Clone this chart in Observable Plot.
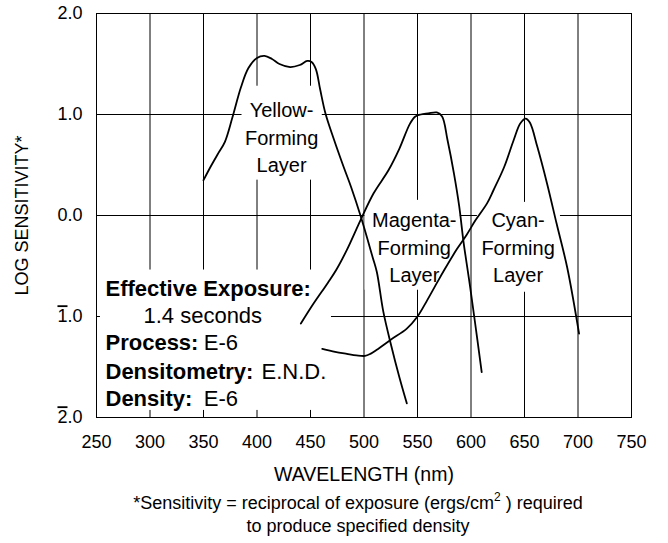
<!DOCTYPE html>
<html><head><meta charset="utf-8">
<script src="https://cdn.jsdelivr.net/npm/d3@7"></script>
<script src="https://cdn.jsdelivr.net/npm/@observablehq/plot@0.6"></script>
<style>
body{margin:0;background:#fff;font-family:"Liberation Sans",Arial,sans-serif;color:#000;}
#caption{width:668px;box-sizing:border-box;padding-left:48px;padding-top:2px;text-align:center;font-size:18px;line-height:22.5px;}
#caption sup{font-size:12px;line-height:0;vertical-align:baseline;position:relative;top:-8px;}
</style></head><body>
<div id="chart"></div>
<div id="caption">*Sensitivity = reciprocal of exposure (ergs/cm<sup>2</sup> ) required<br>to produce specified density</div>
<script>
// Yellow-forming layer
const yellowWl  = [350, 357, 364, 370, 377, 385, 392, 400, 407, 414, 421, 431, 440, 447, 451, 455, 459, 464, 472, 481, 488, 497, 508, 512, 518, 525, 533, 540];
const yellowLog = [0.35, 0.49, 0.62, 0.73, 0.97, 1.27, 1.46, 1.56, 1.58, 1.55, 1.50, 1.47, 1.49, 1.53, 1.52, 1.45, 1.25, 1.01, 0.75, 0.48, 0.28, -0.01, -0.41, -0.56, -0.95, -1.27, -1.60, -1.86];
// Magenta-forming layer
const magentaWl  = [441, 453, 466, 474, 484, 497, 509, 523, 533, 543, 548, 553, 560, 568, 573, 578, 584, 589, 593, 598, 603, 610];
const magentaLog = [-1.07, -0.87, -0.67, -0.54, -0.34, -0.04, 0.22, 0.45, 0.66, 0.91, 0.98, 1.00, 1.01, 1.02, 0.98, 0.75, 0.42, 0.09, -0.26, -0.62, -1.00, -1.55];
// Cyan-forming layer
const cyanWl  = [461, 473, 484, 493, 501, 506, 512, 525, 540, 550, 559, 568, 575, 587, 596, 604, 615, 621, 631, 640, 646, 651, 655, 662, 671, 680, 690, 701];
const cyanLog = [-1.32, -1.35, -1.37, -1.385, -1.39, -1.37, -1.33, -1.23, -1.12, -1.00, -0.84, -0.67, -0.54, -0.33, -0.19, -0.05, 0.12, 0.25, 0.48, 0.75, 0.91, 0.96, 0.92, 0.68, 0.32, -0.08, -0.52, -1.17];

const xTicks = [250, 300, 350, 400, 450, 500, 550, 600, 650, 700, 750];
const yTicks = [-2, -1, 0, 1, 2];
const xTitle = "WAVELENGTH (nm)";
const yTitle = "LOG SENSITIVITY*";

// Annotation text and their white backing boxes
const layerLabels = [
  {text: "Yellow-\nForming\nLayer", wl: 423, log: 0.79},
  {text: "Magenta-\nForming\nLayer", wl: 547, log: -0.30},
  {text: "Cyan-\nForming\nLayer", wl: 644, log: -0.30}
];
const boxes = [
  {x1: 386, x2: 461, y1: 0.35, y2: 1.28},
  {x1: 253.7, x2: 469.6, y1: -1.93, y2: -0.54},
  {x1: 501, x2: 590, y1: -0.74, y2: 0.15},
  {x1: 606, x2: 683.6, y1: -0.76, y2: 0.13}
];
const infoLabels = [
  {text: "Effective Exposure:", wl: 258.4, log: -0.796},
  {text: "Process:", wl: 258.4, log: -1.334},
  {text: "Densitometry:", wl: 258.4, log: -1.614},
  {text: "Density:", wl: 258.4, log: -1.885}
];
const infoValues = [
  {text: "1.4 seconds", wl: 293.9, log: -1.069},
  {text: "E-6", wl: 350.3, log: -1.334},
  {text: "E.N.D.", wl: 404.2, log: -1.614},
  {text: "E-6", wl: 350.3, log: -1.885}
];

const rows = [];
yellowWl.forEach((w, i) => rows.push({layer: "Yellow", wl: w, log: yellowLog[i]}));
magentaWl.forEach((w, i) => rows.push({layer: "Magenta", wl: w, log: magentaLog[i]}));
cyanWl.forEach((w, i) => rows.push({layer: "Cyan", wl: w, log: cyanLog[i]}));

const svg = Plot.plot({
  width: 668,
  height: 490,
  marginLeft: 96,
  marginRight: 37,
  marginTop: 13,
  marginBottom: 73,
  style: {fontFamily: "'Liberation Sans', Arial, sans-serif", fontSize: "18px", color: "#000", background: "#fff"},
  x: {domain: [250, 750], label: null},
  y: {domain: [-2, 2], label: null},
  marks: [
    Plot.ruleX(xTicks, {stroke: "#000", strokeWidth: 1}),
    Plot.ruleY(yTicks, {stroke: "#000", strokeWidth: 1}),
    Plot.rect(boxes, {x1: "x1", x2: "x2", y1: "y1", y2: "y2", fill: "#fff"}),
    Plot.frame({stroke: "#000", strokeWidth: 1}),
    Plot.axisX({ticks: xTicks, tickSize: 0, tickPadding: 18, tickFormat: d => String(d), label: null, fontSize: 18}),
    Plot.axisY({ticks: yTicks, tickSize: 0, tickPadding: 14, label: null, fontSize: 18,
      tickFormat: d => (d < 0 ? "\u00AF" : "") + Math.abs(d).toFixed(1)}),
    Plot.text([xTitle], {frameAnchor: "bottom", text: d => d, textAnchor: "middle", lineAnchor: "bottom", dy: 63, fontSize: 19.5, fill: "#000"}),
    Plot.text([yTitle], {frameAnchor: "left", text: d => d, textAnchor: "middle", rotate: -90, lineAnchor: "top", dx: -81, fontSize: 18, fill: "#000"}),
    Plot.line(rows, {x: "wl", y: "log", z: "layer", curve: "catmull-rom", stroke: "#000", strokeWidth: 1.8}),
    Plot.text(layerLabels, {x: "wl", y: "log", text: "text", fontSize: 20, lineHeight: 1.375, textAnchor: "middle", fill: "#000"}),
    Plot.text(infoLabels, {x: "wl", y: "log", text: "text", fontSize: 22, fontWeight: "bold", textAnchor: "start", lineAnchor: "bottom", fill: "#000"}),
    Plot.text(infoValues, {x: "wl", y: "log", text: "text", fontSize: 22, textAnchor: "start", lineAnchor: "bottom", fill: "#000"})
  ]
});

// Bar-notation for negative characteristics (e.g. 1̄.0)
const ns = "http://www.w3.org/2000/svg";
svg.querySelectorAll('g[aria-label="y-axis tick label"] text').forEach(t => {
  const s = t.textContent;
  if (s.startsWith("\u00AF")) {
    t.textContent = "";
    const a = document.createElementNS(ns, "tspan");
    a.textContent = s[1];
    a.setAttribute("text-decoration", "overline");
    a.style.textDecoration = "overline";
    const b = document.createElementNS(ns, "tspan");
    b.textContent = s.slice(2);
    t.append(a, b);
  }
});

document.getElementById("chart").append(svg);
</script>
</body></html>
